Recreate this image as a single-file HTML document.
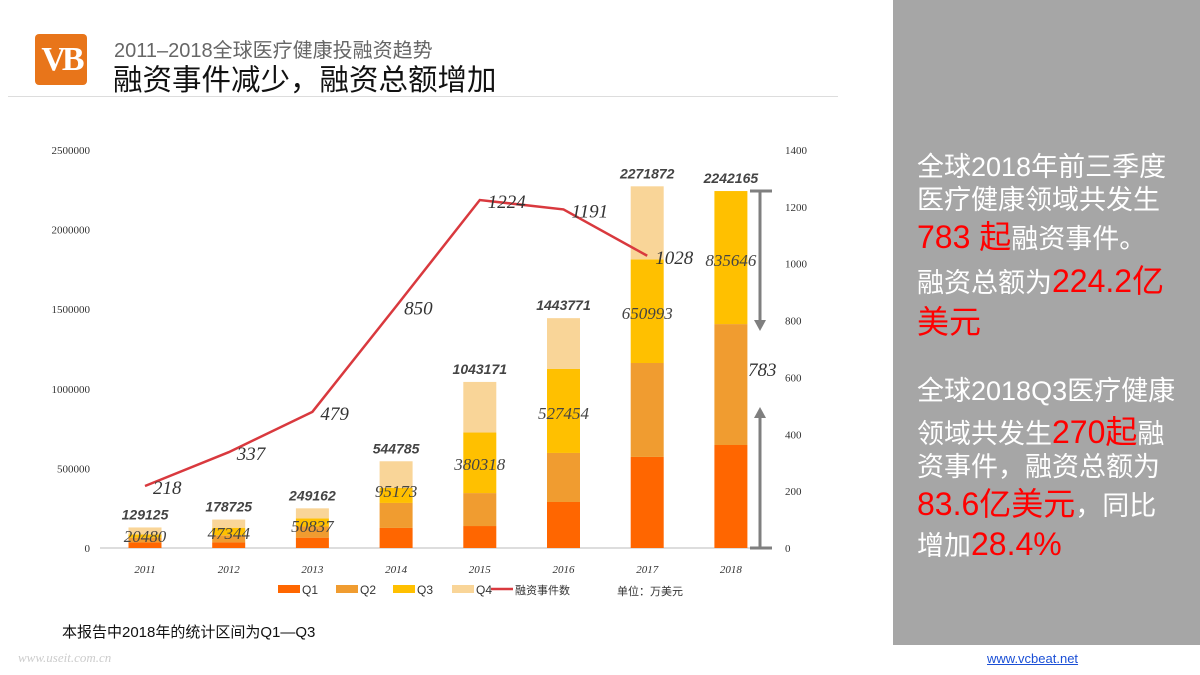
<!DOCTYPE html>
<html><head><meta charset="utf-8"><style>
body{margin:0;width:1200px;height:675px;position:relative;background:#fff;overflow:hidden;font-family:"Liberation Sans","Noto Sans CJK SC",sans-serif}
.a{position:absolute;white-space:nowrap}
.ln{position:absolute;left:917px;color:#fff;font-size:27px;line-height:34px;white-space:nowrap}
.r{color:#f00;font-size:32px}
</style></head><body>
<div class="a" style="left:35px;top:34px;width:52px;height:51px;background:#e8751a;border-radius:4px;color:#fff;font:bold 34px/51px 'Liberation Serif',serif;text-align:center;letter-spacing:-4px">VB</div>
<div class="a" style="left:114px;top:34px;font-size:20px;color:#666">2011–2018全球医疗健康投融资趋势</div>
<div class="a" style="left:113px;top:57px;font-size:29.5px;color:#111">融资事件减少，融资总额增加</div>
<div class="a" style="left:8px;top:96px;width:830px;height:1px;background:#ddd"></div>
<div class="a" style="left:893px;top:0;width:307px;height:645px;background:#a6a6a6"></div>
<div class="ln" style="top:150px">全球2018年前三季度</div>
<div class="ln" style="top:183px">医疗健康领域共发生</div>
<div class="ln" style="top:220px"><span class="r">783 起</span>融资事件。</div>
<div class="ln" style="top:264px">融资总额为<span class="r">224.2亿</span></div>
<div class="ln" style="top:305px"><span class="r">美元</span></div>
<div class="ln" style="top:374px">全球2018Q3医疗健康</div>
<div class="ln" style="top:415px">领域共发生<span class="r">270起</span>融</div>
<div class="ln" style="top:450px">资事件，融资总额为</div>
<div class="ln" style="top:487px"><span class="r">83.6亿美元</span>，同比</div>
<div class="ln" style="top:527px">增加<span class="r">28.4%</span></div>
<div class="a" style="left:62px;top:621px;font-size:15px;color:#111">本报告中2018年的统计区间为Q1—Q3</div>
<div class="a" style="left:18px;top:650px;font:italic 13px 'Liberation Serif',serif;color:#ccc">www.useit.com.cn</div>
<a class="a" style="left:987px;top:651px;font-size:13px;color:#1a4fd6;text-decoration:underline">www.vcbeat.net</a>
<svg class="a" style="left:0;top:0" width="890" height="675" id="chart"></svg>
<script>
const years=['2011','2012','2013','2014','2015','2016','2017','2018'];
const q1=[35000,35000,65000,126000,138000,289000,572000,647000];
const q2=[30000,45000,70000,157000,207000,308000,590000,759519];
const q3=[20480,47344,50837,95173,380318,527454,650993,835646];
const q4=[43645,51381,63325,166612,317853,319317,458879,0];
const totals=[129125,178725,249162,544785,1043171,1443771,2271872,2242165];
const events=[218,337,479,850,1224,1191,1028];
const leftTicks=[0,500000,1000000,1500000,2000000,2500000];
const rightTicks=[0,200,400,600,800,1000,1200,1400];
const NS='http://www.w3.org/2000/svg',svg=document.getElementById('chart');
const y0=548,yTop=150,xs=i=>145+i*83.7;
const yL=v=>y0-v/2500000*(y0-yTop), yR=v=>y0-v/1400*(y0-yTop);
const q3LabelY=[542,539,532,497,470,419,319,266];
function el(t,a,txt){const e=document.createElementNS(NS,t);for(const k in a)e.setAttribute(k,a[k]);if(txt!=null)e.textContent=txt;svg.appendChild(e);return e;}
let e;
e=el('line',{x1:100,x2:760,y1:y0,y2:y0,stroke:'#bbb'});

leftTicks.forEach(v=>{e=el('text',{x:90,y:yL(v)+4,'text-anchor':'end','font-size':11,'font-family':'Liberation Serif',fill:'#333'},String(v));
});
rightTicks.forEach(v=>{e=el('text',{x:785,y:yR(v)+4,'font-size':11,'font-family':'Liberation Serif',fill:'#333'},String(v));
});
const cols=['#ff6600','#f09c30','#ffc000','#f9d598'];
years.forEach((yr,i)=>{let base=0;[q1,q2,q3,q4].forEach((s,k)=>{const v=s[i];if(!v)return;
e=el('rect',{x:xs(i)-16.5,width:33,y:yL(base+v),height:yL(base)-yL(base+v),fill:cols[k]});
base+=v;});
e=el('text',{x:xs(i),y:573,'text-anchor':'middle','font-size':11,'font-style':'italic','font-family':'Liberation Serif',fill:'#333'},yr);

e=el('text',{x:xs(i),y:yL(totals[i])-8,'text-anchor':'middle','font-size':14,'font-weight':'bold','font-style':'italic',fill:'#444'},String(totals[i]));

e=el('text',{x:xs(i),y:q3LabelY[i],'text-anchor':'middle','font-size':17,'font-style':'italic','font-family':'Liberation Serif',fill:'#444'},String(q3[i]));
});
const pts=events.map((v,i)=>xs(i)+','+yR(v)).join(' ');
e=el('polyline',{points:pts,fill:'none',stroke:'#d9393e','stroke-width':2.5});

events.forEach((v,i)=>{e=el('text',{x:xs(i)+8,y:yR(v)+8,'font-size':19,'font-style':'italic','font-family':'Liberation Serif',fill:'#333'},String(v));
});
e=el('g',{stroke:'#7f7f7f','stroke-width':3,fill:'#7f7f7f'});

e.innerHTML='<line x1="750" x2="772" y1="191" y2="191"/><line x1="760" x2="760" y1="191" y2="322"/><polygon points="754,320 766,320 760,331" stroke="none"/><line x1="750" x2="772" y1="548" y2="548"/><line x1="760" x2="760" y1="548" y2="416"/><polygon points="754,418 766,418 760,407" stroke="none"/>';
e=el('text',{x:748,y:376,'font-size':19,'font-style':'italic','font-family':'Liberation Serif',fill:'#333'},'783');

const leg=[['Q1',278],['Q2',336],['Q3',393],['Q4',452]];
leg.forEach((l,k)=>{e=el('rect',{x:l[1],y:585,width:22,height:8,fill:cols[k]});

e=el('text',{x:l[1]+24,y:594,'font-size':12,fill:'#333'},l[0]);
});
e=el('line',{x1:491,x2:513,y1:589,y2:589,stroke:'#d9393e','stroke-width':2.5});

e=el('text',{x:515,y:594,'font-size':11,fill:'#333'},'融资事件数');

e=el('text',{x:617,y:595,'font-size':11,fill:'#333'},'单位：万美元');

</script>
</body></html>
